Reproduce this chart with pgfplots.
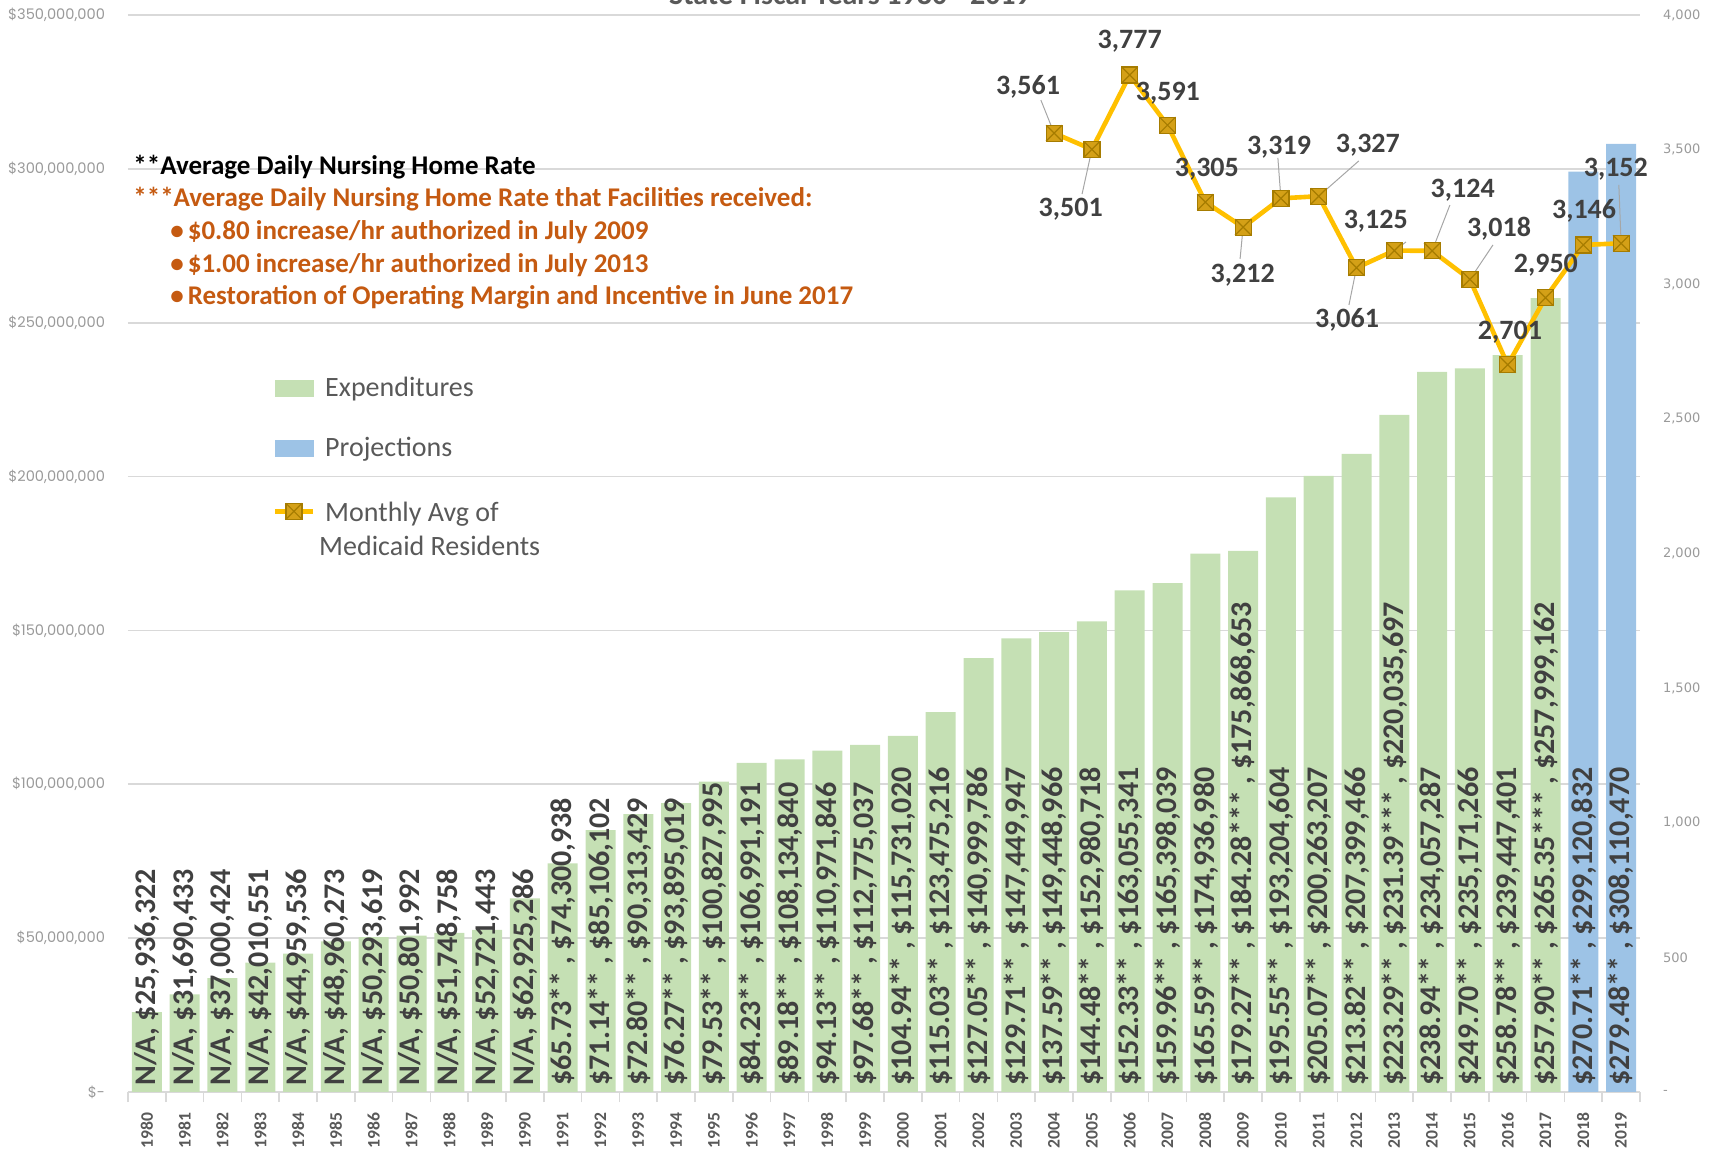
\documentclass[border=0pt]{standalone}
\usepackage{fontspec}
\setmainfont{Carlito}
\newfontfamily\lticks{Poppins}
\newfontfamily\rticks{DejaVu Sans}
\usepackage{pgfplots}
\pgfplotsset{compat=1.18}
\definecolor{bargreen}{HTML}{C5E0B4}
\definecolor{barblue}{HTML}{9DC3E6}
\definecolor{linegold}{HTML}{FFC000}
\definecolor{markfill}{HTML}{D4A017}
\definecolor{markdraw}{HTML}{A67C00}
\definecolor{txtdark}{HTML}{404040}
\definecolor{txtgray}{HTML}{595959}
\definecolor{ticklab}{HTML}{9A9A9A}
\definecolor{gridc}{HTML}{D9D9D9}
\definecolor{leader}{HTML}{A6A6A6}
\definecolor{noteorange}{HTML}{C55A11}
\pgfdeclareplotmark{sqx}{%
  \pgfpathrectangle{\pgfqpoint{-\pgfplotmarksize}{-\pgfplotmarksize}}{\pgfqpoint{2\pgfplotmarksize}{2\pgfplotmarksize}}%
  \pgfusepathqfillstroke
  \pgfpathmoveto{\pgfqpoint{-\pgfplotmarksize}{-\pgfplotmarksize}}%
  \pgfpathlineto{\pgfqpoint{\pgfplotmarksize}{\pgfplotmarksize}}%
  \pgfpathmoveto{\pgfqpoint{-\pgfplotmarksize}{\pgfplotmarksize}}%
  \pgfpathlineto{\pgfqpoint{\pgfplotmarksize}{-\pgfplotmarksize}}%
  \pgfusepathqstroke
}
\pgfplotsset{lineleg/.style={legend image code/.code={\draw[##1, mark=none] (0pt,0pt) -- (19pt,0pt); \draw[##1] plot coordinates {(9.5pt,0pt)};}}}
\newcommand{\D}{\textdollar}
\begin{document}
\begin{tikzpicture}
\begin{axis}[name=ax, scale only axis, width=756pt, height=538.5pt,
  xmin=1979.5, xmax=2019.5, ymin=0, ymax=350000000, clip=false,
  axis y line*=left, axis x line*=bottom,
  y axis line style={draw=none}, x axis line style={gridc, line width=0.8pt},
  ytick={0,50000000,100000000,150000000,200000000,250000000,300000000,350000000},
  yticklabels={\D-,{\D50,000,000},{\D100,000,000},{\D150,000,000},{\D200,000,000},{\D250,000,000},{\D300,000,000},{\D350,000,000}},
  yticklabel style={font=\lticks\fontsize{7.3}{8}\selectfont, text=ticklab, xshift=-8pt},
  ymajorgrids, major grid style={gridc, line width=0.8pt},
  major tick length=0pt, minor tick length=5pt, tick align=outside,
  xtick={1980,...,2019},
  minor xtick={1979.5,1980.5,...,2019.5},
  minor x tick style={gridc, line width=0.8pt},
  xticklabel={\pgfmathprintnumber[fixed,precision=0,1000 sep={},assume math mode=true]{\tick}},
  xticklabel style={rotate=90, anchor=east, font=\bfseries\fontsize{8.8}{9}\selectfont, text=txtgray},
  xticklabel shift=7pt,
]
\addplot[ybar, bar width=15pt, bar shift=0pt, fill=bargreen, draw=none] coordinates {
(1980,25936322) (1981,31690433) (1982,37000424) (1983,42010551) (1984,44959536)
(1985,48960273) (1986,50293619) (1987,50801992) (1988,51748758) (1989,52721443)
(1990,62925286) (1991,74300938) (1992,85106102) (1993,90313429) (1994,93895019)
(1995,100827995) (1996,106991191) (1997,108134840) (1998,110971846) (1999,112775037)
(2000,115731020) (2001,123475216) (2002,140999786) (2003,147449947) (2004,149448966)
(2005,152980718) (2006,163055341) (2007,165398039) (2008,174936980) (2009,175868653)
(2010,193204604) (2011,200263207) (2012,207399466) (2013,220035697) (2014,234057287)
(2015,235171266) (2016,239447401) (2017,257999162)};
\addplot[ybar, bar width=15pt, bar shift=0pt, fill=barblue, draw=none] coordinates {
(2018,299120832) (2019,308110470)};
\addplot[draw=none, mark=none, nodes near coords={\pgfplotspointmeta}, point meta=explicit symbolic,
  every node near coord/.style={rotate=90, anchor=west, inner xsep=3pt, inner ysep=0pt,
    font=\bfseries\fontsize{15}{15}\selectfont, text=txtdark}] coordinates {
(1980,0) [N/A, \D25,936,322]
(1981,0) [N/A, \D31,690,433]
(1982,0) [N/A, \D37,000,424]
(1983,0) [N/A, \D42,010,551]
(1984,0) [N/A, \D44,959,536]
(1985,0) [N/A, \D48,960,273]
(1986,0) [N/A, \D50,293,619]
(1987,0) [N/A, \D50,801,992]
(1988,0) [N/A, \D51,748,758]
(1989,0) [N/A, \D52,721,443]
(1990,0) [N/A, \D62,925,286]
(1991,0) [\D65.73** , \D74,300,938]
(1992,0) [\D71.14** , \D85,106,102]
(1993,0) [\D72.80** , \D90,313,429]
(1994,0) [\D76.27** , \D93,895,019]
(1995,0) [\D79.53** , \D100,827,995]
(1996,0) [\D84.23** , \D106,991,191]
(1997,0) [\D89.18** , \D108,134,840]
(1998,0) [\D94.13** , \D110,971,846]
(1999,0) [\D97.68** , \D112,775,037]
(2000,0) [\D104.94** , \D115,731,020]
(2001,0) [\D115.03** , \D123,475,216]
(2002,0) [\D127.05** , \D140,999,786]
(2003,0) [\D129.71** , \D147,449,947]
(2004,0) [\D137.59** , \D149,448,966]
(2005,0) [\D144.48** , \D152,980,718]
(2006,0) [\D152.33** , \D163,055,341]
(2007,0) [\D159.96** , \D165,398,039]
(2008,0) [\D165.59** , \D174,936,980]
(2009,0) [\D179.27** , \D184.28*** , \D175,868,653]
(2010,0) [\D195.55** , \D193,204,604]
(2011,0) [\D205.07** , \D200,263,207]
(2012,0) [\D213.82** , \D207,399,466]
(2013,0) [\D223.29** , \D231.39*** , \D220,035,697]
(2014,0) [\D238.94** , \D234,057,287]
(2015,0) [\D249.70** , \D235,171,266]
(2016,0) [\D258.78** , \D239,447,401]
(2017,0) [\D257.90** , \D265.35*** , \D257,999,162]
(2018,0) [\D270.71** , \D299,120,832]
(2019,0) [\D279.48** , \D308,110,470]
};
\end{axis}
\begin{axis}[scale only axis, width=756pt, height=538.5pt,
  xmin=1979.5, xmax=2019.5, ymin=0, ymax=4000, clip=false,
  axis y line*=right, axis x line=none,
  y axis line style={draw=none}, major tick length=0pt,
  ytick={0,500,1000,1500,2000,2500,3000,3500,4000},
  yticklabels={-,500,{1,000},{1,500},{2,000},{2,500},{3,000},{3,500},{4,000}},
  yticklabel style={font=\rticks\fontsize{6.5}{7}\selectfont, text=ticklab, xshift=8pt},
  legend cell align=left,
  legend style={at={(axis description cs:0.0954,0.666)}, anchor=north west, draw=none, fill=none,
    font=\fontsize{14}{17}\selectfont, row sep=17pt, inner sep=0pt,
    nodes={inner sep=1pt, text=txtgray},
    /tikz/every odd column/.append style={column sep=4pt}},
]
\addlegendimage{legend image code/.code={\fill[bargreen] (0pt,-4pt) rectangle (19pt,4pt);}}
\addlegendentry{Expenditures}
\addlegendimage{legend image code/.code={\fill[barblue] (0pt,-4pt) rectangle (19pt,4pt);}}
\addlegendentry{Projections}
% leader lines
\draw[leader, line width=0.5pt] (axis cs:2003.65,3684) -- (axis cs:2004,3561);
\draw[leader, line width=0.5pt] (axis cs:2004.74,3335) -- (axis cs:2005,3501);
\draw[leader, line width=0.5pt] (axis cs:2008.92,3094) -- (axis cs:2009,3212);
\draw[leader, line width=0.5pt] (axis cs:2009.92,3469) -- (axis cs:2010,3319);
\draw[leader, line width=0.5pt] (axis cs:2012.06,3458) -- (axis cs:2011,3327);
\draw[leader, line width=0.5pt] (axis cs:2011.80,2923) -- (axis cs:2012,3061);
\draw[leader, line width=0.5pt] (axis cs:2013.31,3157) -- (axis cs:2013,3125);
\draw[leader, line width=0.5pt] (axis cs:2014.47,3294) -- (axis cs:2014,3124);
\draw[leader, line width=0.5pt] (axis cs:2015.61,3146) -- (axis cs:2015,3018);
\draw[leader, line width=0.5pt] (axis cs:2018.94,3369) -- (axis cs:2019,3152);
\addplot[linegold, line width=2.3pt, mark=sqx, mark size=4pt,
  mark options={fill=markfill, draw=markdraw, line width=0.6pt, solid}, lineleg]
coordinates {
(2004,3561) (2005,3501) (2006,3777) (2007,3591) (2008,3305) (2009,3212)
(2010,3319) (2011,3327) (2012,3061) (2013,3125) (2014,3124) (2015,3018)
(2016,2701) (2017,2950) (2018,3146) (2019,3152)};
\addlegendentry{\raisebox{0pt}[\height][0pt]{\begin{tabular}[t]{@{}l@{}}Monthly Avg of\\\hspace*{-3pt}Medicaid Residents\end{tabular}}}
\begin{scope}[every node/.style={font=\bfseries\fontsize{14}{14}\selectfont, text=txtdark, inner sep=0pt}]
\node at (axis cs:2003.31,3733) {3,561};
\node at (axis cs:2004.44,3279) {3,501};
\node at (axis cs:2006.00,3903) {3,777};
\node at (axis cs:2007.01,3710) {3,591};
\node at (axis cs:2008.04,3428) {3,305};
\node at (axis cs:2008.99,3034) {3,212};
\node at (axis cs:2009.95,3510) {3,319};
\node at (axis cs:2012.30,3517) {3,327};
\node at (axis cs:2011.75,2867) {3,061};
\node at (axis cs:2012.51,3235) {3,125};
\node at (axis cs:2014.81,3350) {3,124};
\node at (axis cs:2015.77,3205) {3,018};
\node at (axis cs:2016.06,2823) {2,701};
\node at (axis cs:2017.01,3072) {2,950};
\node at (axis cs:2018.02,3272) {3,146};
\node at (axis cs:2018.86,3428) {3,152};
\end{scope}
\end{axis}
\begin{scope}[every node/.style={anchor=west, inner sep=0pt, font=\bfseries\fontsize{13.5}{16}\selectfont}]
\node[text=black] at ([xshift=2.5pt,yshift=-76pt]ax.north west) {**Average Daily Nursing Home Rate};
\node[text=noteorange] at ([xshift=2.5pt,yshift=-92pt]ax.north west) {***Average Daily Nursing Home Rate that Facilities received:};
\node[text=noteorange] at ([xshift=21pt,yshift=-108.5pt]ax.north west) {•\hspace{2pt}\D0.80 increase/hr authorized in July 2009};
\node[text=noteorange] at ([xshift=21pt,yshift=-125pt]ax.north west) {•\hspace{2pt}\D1.00 increase/hr authorized in July 2013};
\node[text=noteorange] at ([xshift=21pt,yshift=-141pt]ax.north west) {•\hspace{2pt}Restoration of Operating Margin and Incentive in June 2017};
\end{scope}
\node[anchor=base, inner sep=0pt, font=\bfseries\fontsize{15}{15}\selectfont, text=txtgray] at ([xshift=-17pt,yshift=5pt]ax.north) {State Fiscal Years 1980 - 2019};
\pgfresetboundingbox
\path[use as bounding box] ([xshift=-64pt,yshift=-29.5pt]ax.south west) rectangle ([xshift=34.5pt,yshift=7.5pt]ax.north east);
\end{tikzpicture}
\end{document}
